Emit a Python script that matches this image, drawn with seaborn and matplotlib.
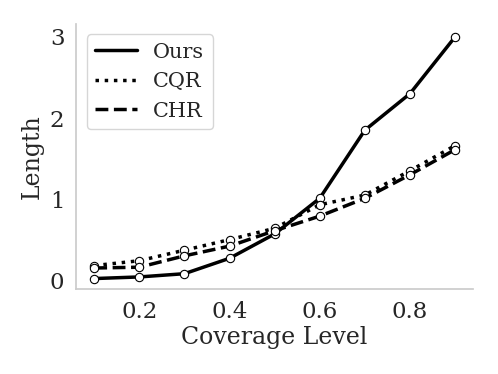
import matplotlib
matplotlib.use('Agg')
import matplotlib.pyplot as plt
import pandas as pd
import seaborn as sns
from matplotlib.lines import Line2D

coverage = [0.1, 0.2, 0.3, 0.4, 0.5, 0.6, 0.7, 0.8, 0.9]
ours = [0.02, 0.04, 0.08, 0.27, 0.57, 1.01, 1.85, 2.30, 3.00]
cqr = [0.18, 0.24, 0.37, 0.50, 0.64, 0.93, 1.05, 1.35, 1.66]
chr_ = [0.15, 0.16, 0.30, 0.42, 0.61, 0.79, 1.01, 1.30, 1.61]

df = pd.DataFrame({
    'Coverage Level': coverage * 3,
    'Length': ours + cqr + chr_,
    'method': ['Ours'] * 9 + ['CQR'] * 9 + ['CHR'] * 9,
})

sns.set_theme(style='white', font_scale=1.5)
plt.rcParams['font.family'] = ['DejaVu Serif']
plt.rcParams['axes.edgecolor'] = '#cccccc'

fig, ax = plt.subplots(figsize=(4.98, 3.74), dpi=100)
styles = {'Ours': '-', 'CQR': ':', 'CHR': '--'}
for m in ['Ours', 'CQR', 'CHR']:
    sub = df[df['method'] == m]
    sns.lineplot(data=sub, x='Coverage Level', y='Length', ax=ax, color='black',
                 linestyle=styles[m], linewidth=2.5, label=m,
                 marker='o', markersize=6, markerfacecolor='white',
                 markeredgecolor='black', markeredgewidth=0.8)

# legend shows plain lines only
handles = [Line2D([], [], color='black', linestyle=styles[m], linewidth=2.5) for m in styles]
ax.legend(handles, list(styles), loc='upper left', frameon=True, fontsize=15)

ax.set_xticks([0.2, 0.4, 0.6, 0.8])
ax.set_yticks([0, 1, 2, 3])
ax.tick_params(axis='both', pad=2.5)
ax.set_xlim(0.06, 0.94)
ax.set_ylim(-0.11, 3.16)
ax.set_xlabel('Coverage Level', fontsize=17, labelpad=2)
ax.set_ylabel('Length', fontsize=17)
sns.despine(ax=ax)
fig.subplots_adjust(left=0.153, right=0.95, bottom=0.227, top=0.936)
fig.savefig('out.png', dpi=100)
